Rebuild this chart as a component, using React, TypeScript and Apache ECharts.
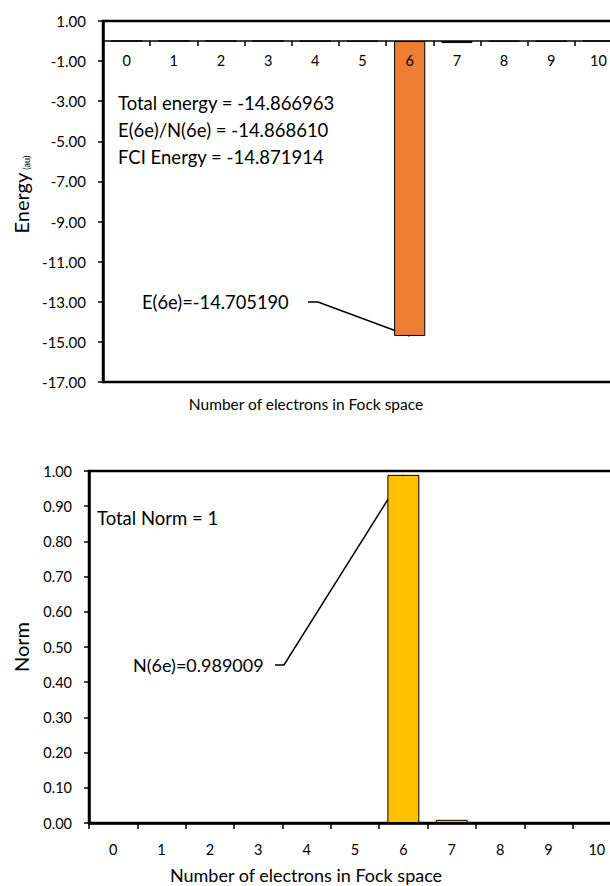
import React, { useEffect, useRef } from "react";
import * as echarts from "echarts";

const categories = ["0", "1", "2", "3", "4", "5", "6", "7", "8", "9", "10"];
const energyValues = [0, 0, 0, 0, -0.008, -0.02, -14.70519, -0.1, -0.022, -0.012, 0];
const normValues = [0, 0, 0, 0, 0, 0, 0.989009, 0.009, 0.001, 0, 0];
const energyTicks = { min: -17, max: 1, interval: 2 };
const normTicks = { min: 0, max: 1, interval: 0.1 };
const energyNotes = [
  "Total energy = -14.866963",
  "E(6e)/N(6e) = -14.868610",
  "FCI Energy = -14.871914",
];
const energyLabel = "E(6e)=-14.705190";
const normNote = "Total Norm = 1";
const normLabel = "N(6e)=0.989009";
const xTitle = "Number of electrons in Fock space";

const FONT = "Lato, 'Noto Sans', sans-serif";
const TOP_H = 361;
const CHART_W = 640;

export default function App() {
  const ref = useRef<HTMLDivElement>(null);
  useEffect(() => {
    document.body.style.margin = "0";
    const chart = echarts.init(ref.current!, null, { renderer: "svg" });
    const zeroOffset = -TOP_H * (energyTicks.max - 0) / (energyTicks.max - energyTicks.min);
    chart.setOption({
      animation: false,
      textStyle: { fontFamily: FONT, color: "#000" },
      grid: [
        { left: 103, top: 21, width: 519, height: TOP_H, show: true, borderColor: "#000", borderWidth: 2.5, backgroundColor: "transparent" },
        { left: 89, top: 471, width: 532, height: 352, show: true, borderColor: "#000", borderWidth: 2.5, backgroundColor: "transparent" },
      ],
      xAxis: [
        {
          type: "category",
          gridIndex: 0,
          data: categories,
          position: "top",
          offset: zeroOffset,
          z: 10,
          axisLine: { onZero: false, lineStyle: { color: "#000", width: 1.5 } },
          axisTick: { show: true, inside: true, length: 5, lineStyle: { color: "#000", width: 1.5 } },
          axisLabel: { inside: true, fontSize: 14.5, color: "#000", margin: 12, fontFamily: FONT },
          splitLine: { show: false },
        },
        {
          type: "category",
          gridIndex: 1,
          data: categories,
          axisLine: { lineStyle: { color: "#000", width: 2.5 } },
          axisTick: { show: true, length: 6, lineStyle: { color: "#000", width: 1.5 } },
          axisLabel: { fontSize: 14.5, color: "#000", margin: 19, fontFamily: FONT },
          splitLine: { show: false },
        },
      ],
      yAxis: [
        {
          type: "value",
          gridIndex: 0,
          min: energyTicks.min,
          max: energyTicks.max,
          interval: energyTicks.interval,
          name: "{a|Energy} {b|(au)}",
          nameLocation: "middle",
          nameRotate: 90,
          nameGap: 72,
          nameTextStyle: {
            padding: [0, 0, 0, 14],
            rich: {
              a: { fontSize: 20, fontFamily: FONT, color: "#000" },
              b: { fontSize: 9, fontFamily: FONT, color: "#000", verticalAlign: "bottom" },
            },
          },
          axisLine: { show: true, lineStyle: { color: "#000", width: 2.5 } },
          axisTick: { show: true, length: 5, lineStyle: { color: "#000", width: 1.5 } },
          axisLabel: { fontSize: 15, color: "#000", margin: 17, fontFamily: FONT, formatter: (v: number) => v.toFixed(2) },
          splitLine: { show: false },
        },
        {
          type: "value",
          gridIndex: 1,
          min: normTicks.min,
          max: normTicks.max,
          interval: normTicks.interval,
          name: "Norm",
          nameLocation: "middle",
          nameRotate: 90,
          nameGap: 58,
          nameTextStyle: { fontSize: 20, fontFamily: FONT, color: "#000" },
          axisLine: { show: true, lineStyle: { color: "#000", width: 2.5 } },
          axisTick: { show: true, length: 5, lineStyle: { color: "#000", width: 1.5 } },
          axisLabel: { fontSize: 14.5, color: "#000", margin: 17, fontFamily: FONT, formatter: (v: number) => v.toFixed(2) },
          splitLine: { show: false },
        },
      ],
      series: [
        {
          type: "bar",
          xAxisIndex: 0,
          yAxisIndex: 0,
          data: energyValues,
          barWidth: "66%",
          itemStyle: { color: "#ED7D31", borderColor: "#000", borderWidth: 1 },
        },
        {
          type: "bar",
          xAxisIndex: 1,
          yAxisIndex: 1,
          data: normValues,
          barWidth: "66%",
          itemStyle: { color: "#FFC000", borderColor: "#000", borderWidth: 1 },
        },
      ],
    });

    const eEnd = chart.convertToPixel({ gridIndex: 0 }, [6, energyValues[6]]) as number[];
    const nEnd = chart.convertToPixel({ gridIndex: 1 }, [6, normValues[6]]) as number[];

    const textEl = (x: number, y: number, text: string, size: number) => ({
      type: "text",
      x,
      y,
      style: { text, fontSize: size, fontFamily: FONT, fill: "#000", verticalAlign: "middle", align: "left" },
    });

    chart.setOption({
      graphic: [
        textEl(118, 103, energyNotes[0], 18.5),
        textEl(118, 130, energyNotes[1], 18.5),
        textEl(118, 157, energyNotes[2], 18.5),
        textEl(142, 302, energyLabel, 18.3),
        {
          type: "polyline",
          shape: { points: [[308, 302], [318, 302], [eEnd[0], eEnd[1]]] },
          style: { stroke: "#000", lineWidth: 1.5, fill: "none" },
        },
        {
          type: "text",
          x: 306,
          y: 404,
          style: { text: xTitle, fontSize: 15.5, fontFamily: FONT, fill: "#000", align: "center", verticalAlign: "middle" },
        },
        textEl(97, 518, normNote, 18.5),
        textEl(133, 665, normLabel, 18),
        {
          type: "polyline",
          shape: { points: [[275, 665], [284, 665], [nEnd[0], nEnd[1]]] },
          style: { stroke: "#000", lineWidth: 1.5, fill: "none" },
        },
        {
          type: "text",
          x: 306,
          y: 875,
          style: { text: xTitle, fontSize: 18, fontFamily: FONT, fill: "#000", align: "center", verticalAlign: "middle" },
        },
      ],
    });

    return () => chart.dispose();
  }, []);
  return (
    <div style={{ width: 610, height: 886, overflow: "hidden", position: "relative" }}>
      <div ref={ref} style={{ width: CHART_W, height: 886 }} />
    </div>
  );
}
